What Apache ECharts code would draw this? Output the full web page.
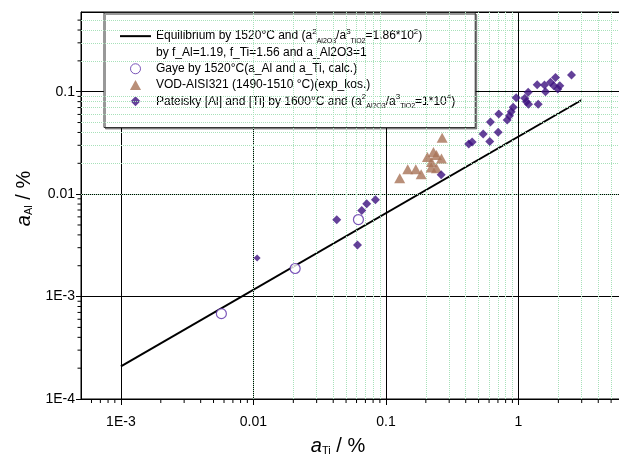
<!DOCTYPE html>
<html>
<head>
<meta charset="utf-8">
<script src="https://cdn.jsdelivr.net/npm/echarts@6/dist/echarts.min.js"></script>
<style>
  html, body { margin: 0; padding: 0; background: #fff; overflow: hidden; }
  /* the reference plot runs past the right edge of the picture, so the chart is wider than the window */
  #chart { width: 651px; height: 460px; }
</style>
</head>
<body>
<div id="chart"></div>
<script>
// ---- data ----
const xTickValues = [1e-3, 0.01, 0.1, 1, 10];
const xTickLabels = ['1E-3', '0.01', '0.1', '1', '10'];
const yTickValues = [1e-4, 1e-3, 0.01, 0.1];
const yTickLabels = ['1E-4', '1E-3', '0.01', '0.1'];

// equilibrium line a_Ti -> a_Al (straight in log-log)
const equilibriumLine = [[0.001, 0.000208], [3, 0.083]];

// Gaye by 1520°C (calc.)
const gayePoints = [[0.00573, 0.000681], [0.02065, 0.00188], [0.062, 0.00565]];

// VOD-AISI321
const vodPoints = [
  [0.127, 0.01432], [0.146, 0.01754], [0.168, 0.01754], [0.1844, 0.01567],
  [0.2056, 0.0231], [0.2206, 0.02065], [0.2405, 0.02415], [0.2624, 0.02223],
  [0.2194, 0.01817], [0.2405, 0.0179], [0.2655, 0.0356], [0.2283, 0.02584]
];

// Pateisky [Al] and [Ti] by 1600°C
const pateiskyPoints = [
  [0.04253, 0.00562], [0.061, 0.00318], [0.0657, 0.00692], [0.0716, 0.00804],
  [0.0833, 0.0088], [0.261, 0.01542], [0.4216, 0.0309], [0.4472, 0.03234],
  [0.5416, 0.0387], [0.6073, 0.03257], [0.6147, 0.05066], [0.7027, 0.0402],
  [0.7101, 0.0606], [0.8217, 0.053], [0.8552, 0.0584], [0.881, 0.0638],
  [0.912, 0.0705], [0.961, 0.0874], [1.116, 0.0862], [1.149, 0.0799],
  [1.19, 0.0754], [1.409, 0.0754], [1.184, 0.0987], [1.384, 0.117],
  [1.571, 0.1162], [1.599, 0.1], [1.744, 0.1235], [1.902, 0.138],
  [1.846, 0.1144], [1.98, 0.1062], [2.05, 0.1144], [2.512, 0.1455]
];
const pateiskySmall = [[0.01067, 0.00238]];

// ---- helpers ----
const FONT = 'Liberation Sans, Arial, sans-serif';
const X_MIN = 5e-4, X_MAX = 10, Y_MIN = 1e-4, Y_MAX = 0.6;

function minorValues(lo, hi) {
  // 2..9 * 10^n inside [lo, hi]
  const out = [];
  for (let e = -5; e <= 2; e++) {
    for (let k = 2; k <= 9; k++) {
      const v = k * Math.pow(10, e);
      if (v > lo * 1.0001 && v < hi * 0.9999) out.push(+v.toPrecision(3));
    }
  }
  return out;
}
const xMinor = minorValues(X_MIN, X_MAX);
const yMinor = minorValues(Y_MIN, Y_MAX);

function tickLabel(values, labels) {
  return function (v) {
    for (let i = 0; i < values.length; i++) {
      if (Math.abs(Math.log10(v) - Math.log10(values[i])) < 1e-6) return labels[i];
    }
    return '';
  };
}

// small outward tick marks, drawn from the axis scale
function minorTick(dx, dy) {
  return function (params, api) {
    const p = api.coord([api.value(0), api.value(1)]);
    return {
      type: 'line',
      shape: { x1: p[0], y1: p[1], x2: p[0] + dx, y2: p[1] + dy },
      style: { stroke: '#000', lineWidth: 1 }
    };
  };
}

const NAME_EQ = 'Equilibrium';
const NAME_EQ2 = 'Equilibrium2';
const NAME_GAYE = 'Gaye';
const NAME_VOD = 'VOD';
const NAME_PAT = 'Pateisky';

const legendText = {};
legendText[NAME_EQ] = 'Equilibrium by 1520°C and (a{sup|2}{sub|Al2O3}/a{sup|3}{sub|TiO2}=1.86*10{sup|2})';
legendText[NAME_EQ2] = 'by f_Al=1.19, f_Ti=1.56 and a_Al2O3=1';
legendText[NAME_GAYE] = 'Gaye by 1520°C(a_Al and a_Ti, calc.)';
legendText[NAME_VOD] = 'VOD-AISI321 (1490-1510 °C)(exp_kos.)';
legendText[NAME_PAT] = 'Pateisky [Al] and [Ti] by 1600°C and (a{sup|2}{sub|Al2O3}/a{sup|3}{sub|TiO2}=1*10{sup|4})';

const PURPLE = '#3d1280';
const BROWN = '#a87357';
const CIRCLE_EDGE = '#5a2ca8';
const GRID_GREEN = '#a8e1ba';

// legend icons as paths so they keep their aspect inside the 31px wide slot
const ICON_TRIANGLE = 'path://M5,0L10,9L0,9Z';
const ICON_DIAMOND = 'path://M5,0L10,5L5,10L0,5Z';

const chart = echarts.init(document.getElementById('chart'));
chart.setOption({
  animation: false,
  backgroundColor: '#fff',
  textStyle: { fontFamily: FONT },
  grid: {
    left: 81, top: 12, bottom: 61, right: 0,
    outerBoundsMode: 'none',
    containLabel: false,
    show: true, borderColor: '#000', borderWidth: 1, backgroundColor: 'transparent'
  },
  legend: {
    left: 104, top: 13,
    orient: 'vertical',
    selectedMode: false,
    padding: [15, 20, 18, 15],
    itemGap: 0,
    itemWidth: 31,
    itemHeight: 10,
    symbolKeepAspect: true,
    backgroundColor: '#fff',
    borderColor: '#333',
    borderWidth: 1,
    shadowColor: 'rgba(0,0,0,0.4)',
    shadowOffsetX: 1.5,
    shadowOffsetY: 1.5,
    data: [
      { name: NAME_EQ, itemStyle: { opacity: 0 } },
      { name: NAME_EQ2, lineStyle: { opacity: 0 }, itemStyle: { opacity: 0 } },
      { name: NAME_GAYE, icon: 'circle', itemStyle: { color: '#fff', borderColor: CIRCLE_EDGE, borderWidth: 1 } },
      { name: NAME_VOD, icon: ICON_TRIANGLE },
      { name: NAME_PAT, icon: ICON_DIAMOND }
    ],
    formatter: function (n) { return legendText[n]; },
    textStyle: {
      fontFamily: FONT, fontSize: 12, color: '#000', lineHeight: 16.3,
      rich: {
        sup: { fontFamily: FONT, fontSize: 8, verticalAlign: 'top', lineHeight: 9, color: '#000' },
        sub: { fontFamily: FONT, fontSize: 7, verticalAlign: 'bottom', lineHeight: 7, color: '#000' }
      }
    }
  },
  xAxis: {
    type: 'log', logBase: 10, min: X_MIN, max: X_MAX,
    axisLine: { lineStyle: { color: '#000', width: 1 } },
    axisTick: { show: true, inside: false, length: 6, lineStyle: { color: '#000' } },
    axisLabel: {
      fontFamily: FONT, fontSize: 14, color: '#000', margin: 16,
      showMinLabel: false, formatter: tickLabel(xTickValues, xTickLabels)
    },
    splitLine: { show: true, lineStyle: { color: '#000', width: 1, type: 'solid' } },
    name: '{a|a}{s|Ti}{n| / %}',
    nameLocation: 'middle',
    nameGap: 37,
    nameTextStyle: {
      padding: [0, 56, 0, 0],
      rich: {
        a: { fontFamily: FONT, fontSize: 20, fontStyle: 'italic', color: '#000' },
        s: { fontFamily: FONT, fontSize: 11, verticalAlign: 'bottom', lineHeight: 14, color: '#000' },
        n: { fontFamily: FONT, fontSize: 20, color: '#000' }
      }
    }
  },
  yAxis: {
    type: 'log', logBase: 10, min: Y_MIN, max: Y_MAX,
    axisLine: { lineStyle: { color: '#000', width: 1 } },
    axisTick: { show: true, inside: false, length: 5, lineStyle: { color: '#000' } },
    axisLabel: {
      fontFamily: FONT, fontSize: 14, color: '#000', margin: 6,
      showMaxLabel: false, formatter: tickLabel(yTickValues, yTickLabels)
    },
    splitLine: { show: true, lineStyle: { color: '#000', width: 1, type: 'solid' } },
    name: '{a|a}{s|Al}{n| / %}',
    nameLocation: 'middle',
    nameRotate: 90,
    nameGap: 47,
    nameTextStyle: {
      padding: [0, 0, 0, 14],
      rich: {
        a: { fontFamily: FONT, fontSize: 20, fontStyle: 'italic', color: '#000' },
        s: { fontFamily: FONT, fontSize: 11, verticalAlign: 'bottom', lineHeight: 14, color: '#000' },
        n: { fontFamily: FONT, fontSize: 20, color: '#000' }
      }
    }
  },
  series: [
    {
      // minor grid, dotted green
      type: 'scatter', data: [], silent: true, z: 1,
      markLine: {
        silent: true, symbol: 'none', label: { show: false },
        lineStyle: { color: GRID_GREEN, type: 'dotted', width: 1 },
        data: xMinor.map(v => ({ xAxis: v })).concat(yMinor.map(v => ({ yAxis: v })))
      }
    },
    {
      // minor ticks along x axis
      type: 'custom', silent: true, clip: false, z: 3,
      renderItem: minorTick(0, 4),
      data: xMinor.map(v => [v, Y_MIN])
    },
    {
      // minor ticks along y axis
      type: 'custom', silent: true, clip: false, z: 3,
      renderItem: minorTick(-3.5, 0),
      data: yMinor.map(v => [X_MIN, v])
    },
    {
      name: NAME_EQ, type: 'line', data: equilibriumLine,
      symbol: 'none', z: 4,
      lineStyle: { color: '#000', width: 2 }, itemStyle: { color: '#000' }
    },
    {
      name: NAME_EQ2, type: 'line', data: [], symbol: 'none',
      lineStyle: { color: 'rgba(0,0,0,0)', opacity: 0 }, itemStyle: { color: 'rgba(0,0,0,0)' }
    },
    {
      name: NAME_GAYE, type: 'scatter', data: gayePoints, z: 5,
      symbol: 'circle', symbolSize: 10,
      itemStyle: { color: '#fff', borderColor: CIRCLE_EDGE, borderWidth: 1.2 }
    },
    {
      name: NAME_VOD, type: 'scatter', data: vodPoints, z: 5,
      symbol: 'triangle', symbolSize: [11, 10],
      itemStyle: { color: BROWN }
    },
    {
      name: NAME_PAT, type: 'scatter', data: pateiskyPoints, z: 5,
      symbol: 'diamond', symbolSize: 9,
      itemStyle: { color: PURPLE }
    },
    {
      name: NAME_PAT, type: 'scatter', data: pateiskySmall, z: 5,
      symbol: 'diamond', symbolSize: 7,
      itemStyle: { color: PURPLE }
    }
  ]
});
</script>
</body>
</html>
